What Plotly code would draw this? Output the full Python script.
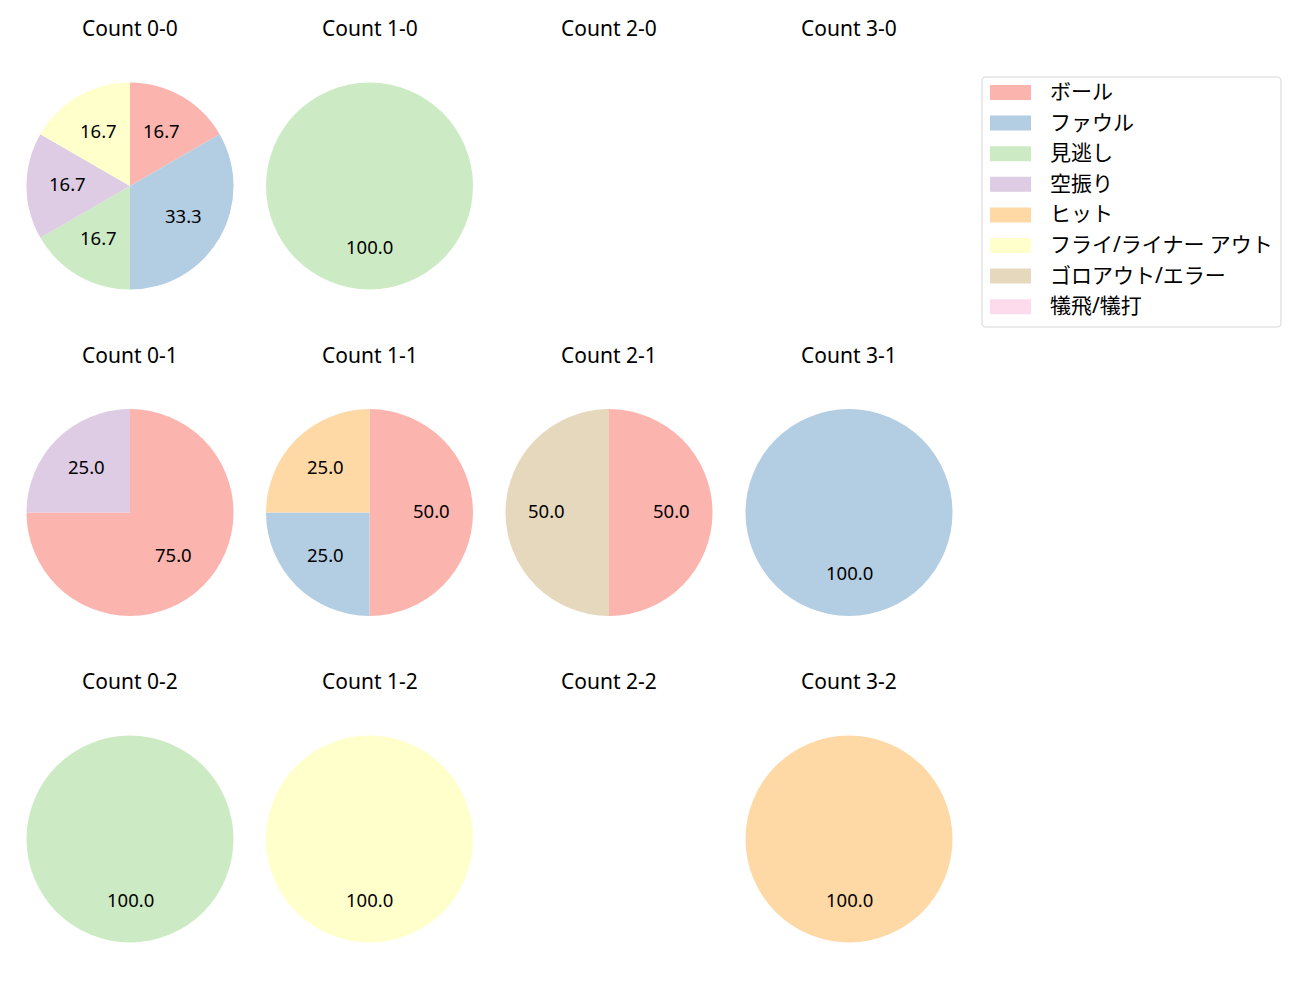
import math
import plotly.graph_objects as go

categories = ["ボール", "ファウル", "見逃し", "空振り", "ヒット",
              "フライ/ライナー アウト", "ゴロアウト/エラー", "犠飛/犠打"]
colors = ["#fbb4ae", "#b3cde3", "#ccebc5", "#decbe4", "#fed9a6",
          "#ffffcc", "#e5d8bd", "#fddaec"]

count_titles = [["Count 0-0", "Count 1-0", "Count 2-0", "Count 3-0"],
                ["Count 0-1", "Count 1-1", "Count 2-1", "Count 3-1"],
                ["Count 0-2", "Count 1-2", "Count 2-2", "Count 3-2"]]

# pitch counts per category for each ball-strike count (None = no data)
values_0_0 = [1, 2, 1, 1, 0, 1, 0, 0]
values_1_0 = [0, 0, 1, 0, 0, 0, 0, 0]
values_2_0 = None
values_3_0 = None
values_0_1 = [3, 0, 0, 1, 0, 0, 0, 0]
values_1_1 = [2, 1, 0, 0, 1, 0, 0, 0]
values_2_1 = [1, 0, 0, 0, 0, 0, 1, 0]
values_3_1 = [0, 1, 0, 0, 0, 0, 0, 0]
values_0_2 = [0, 0, 1, 0, 0, 0, 0, 0]
values_1_2 = [0, 0, 0, 0, 0, 1, 0, 0]
values_2_2 = None
values_3_2 = [0, 0, 0, 0, 1, 0, 0, 0]

grid_values = [[values_0_0, values_1_0, values_2_0, values_3_0],
               [values_0_1, values_1_1, values_2_1, values_3_1],
               [values_0_2, values_1_2, values_2_2, values_3_2]]

W, H = 1300, 1000
FONT = "Noto Sans, Noto Sans CJK JP"
col_cx = [130, 369.5, 609, 849]
row_cy = [186, 512.5, 839]
R = 103.5
title_dy = 158

fig = go.Figure()
annotations = []
shapes = []

for ri in range(3):
    for ci in range(4):
        cx, cy = col_cx[ci], row_cy[ri]
        annotations.append(dict(
            x=cx / W, y=1 - (cy - title_dy) / H, xref="paper", yref="paper",
            text=count_titles[ri][ci], showarrow=False,
            font=dict(family=FONT, size=21, color="#000000"),
            xanchor="center", yanchor="middle"))
        vals = grid_values[ri][ci]
        if vals is None:
            continue
        fig.add_trace(go.Pie(
            labels=categories, values=vals, sort=False, direction="clockwise",
            rotation=0, marker=dict(colors=colors, line=dict(width=0)),
            textinfo="none", showlegend=False,
            domain=dict(x=[(cx - R) / W, (cx + R) / W],
                        y=[1 - (cy + R) / H, 1 - (cy - R) / H])))
        total = sum(vals)
        cum = 0.0
        for v in vals:
            if v <= 0:
                continue
            mid = (cum + v / 2) / total * 2 * math.pi
            cum += v
            px = cx + 0.6 * R * math.sin(mid)
            py = cy - 0.6 * R * math.cos(mid) - 2
            annotations.append(dict(
                x=px / W, y=1 - py / H, xref="paper", yref="paper",
                text=f"{100 * v / total:.1f}", showarrow=False,
                font=dict(family=FONT, size=18.5, color="#000000"),
                xanchor="center", yanchor="middle"))

# legend box
x0, y0, x1, y1, rr = 982, 77, 1281, 327, 4


def pt(xv, yv):
    return f"{xv / W:.6f},{1 - yv / H:.6f}"


path = (f"M {pt(x0+rr, y0)} L {pt(x1-rr, y0)} Q {pt(x1, y0)} {pt(x1, y0+rr)} "
        f"L {pt(x1, y1-rr)} Q {pt(x1, y1)} {pt(x1-rr, y1)} L {pt(x0+rr, y1)} "
        f"Q {pt(x0, y1)} {pt(x0, y1-rr)} L {pt(x0, y0+rr)} Q {pt(x0, y0)} {pt(x0+rr, y0)} Z")

shapes.append(dict(type="path", xref="paper", yref="paper", path=path,
                   line=dict(color="#d6d6d6", width=1),
                   fillcolor="rgba(255,255,255,0.8)", layer="above"))

entry_y0 = 92.5
entry_dy = 30.6
for k, (lab, col) in enumerate(zip(categories, colors)):
    ey = entry_y0 + k * entry_dy
    shapes.append(dict(type="rect", xref="paper", yref="paper",
                       x0=990 / W, x1=1031 / W,
                       y0=1 - (ey + 7.5) / H, y1=1 - (ey - 7.5) / H,
                       fillcolor=col, line=dict(width=0), layer="above"))
    annotations.append(dict(
        x=1048 / W, y=1 - (ey - 1.5) / H, xref="paper", yref="paper",
        text=lab, showarrow=False,
        font=dict(family=FONT, size=21, color="#000000"),
        xanchor="left", yanchor="middle"))

fig.update_layout(
    width=W, height=H, margin=dict(l=0, r=0, t=0, b=0),
    paper_bgcolor="white", plot_bgcolor="white",
    annotations=annotations, shapes=shapes, showlegend=False,
    font=dict(family=FONT))

fig.write_html("out.html")
